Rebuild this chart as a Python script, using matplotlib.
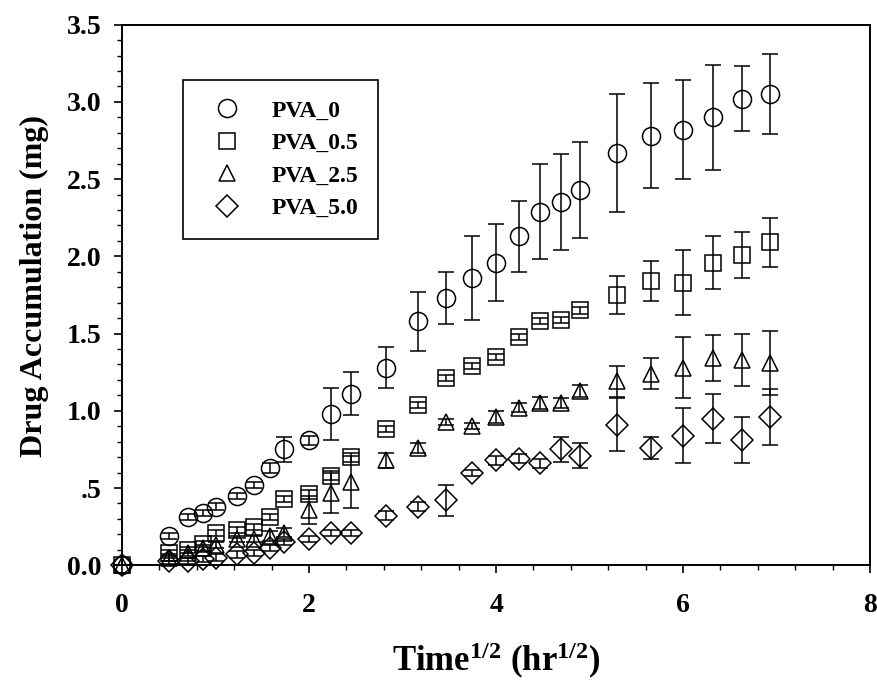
import matplotlib
matplotlib.use("Agg")
import matplotlib.pyplot as plt
from matplotlib.lines import Line2D
from matplotlib.ticker import MultipleLocator, FuncFormatter

plt.rcParams['font.family'] = 'Liberation Serif'
plt.rcParams['font.weight'] = 'bold'
plt.rcParams['mathtext.fontset'] = 'custom'
plt.rcParams['mathtext.rm'] = 'Liberation Serif:bold'
plt.rcParams['mathtext.bf'] = 'Liberation Serif:bold'
plt.rcParams['mathtext.default'] = 'bf'

# sqrt(time), hr^1/2
t = [0, 0.5, 0.707, 0.866, 1.0, 1.225, 1.414, 1.581, 1.732, 2.0, 2.236, 2.449,
     2.828, 3.162, 3.464, 3.742, 4.0, 4.243, 4.472, 4.690, 4.899,
     5.292, 5.657, 6.0, 6.325, 6.633, 6.928]

pva_0 = [0, 0.19, 0.31, 0.34, 0.38, 0.45, 0.52, 0.63, 0.75, 0.81, 0.98, 1.11,
         1.28, 1.58, 1.73, 1.86, 1.96, 2.13, 2.29, 2.35, 2.43,
         2.67, 2.78, 2.82, 2.90, 3.02, 3.05]
pva_0_err = [0, 0.02, 0.02, 0.02, 0.02, 0.02, 0.02, 0.03, 0.08, 0.03, 0.17, 0.14,
             0.13, 0.19, 0.17, 0.27, 0.25, 0.23, 0.31, 0.31, 0.31,
             0.38, 0.34, 0.32, 0.34, 0.21, 0.26]

pva_05 = [0, 0.08, 0.10, 0.14, 0.21, 0.23, 0.25, 0.31, 0.43, 0.46, 0.58, 0.70,
          0.88, 1.04, 1.21, 1.29, 1.35, 1.48, 1.58, 1.59, 1.65,
          1.75, 1.84, 1.83, 1.96, 2.01, 2.09]
pva_05_err = [0, 0.02, 0.02, 0.02, 0.02, 0.02, 0.02, 0.02, 0.02, 0.03, 0.03, 0.03,
              0.02, 0.02, 0.02, 0.02, 0.02, 0.02, 0.02, 0.02, 0.02,
              0.12, 0.13, 0.21, 0.17, 0.15, 0.16]

pva_25 = [0, 0.05, 0.08, 0.11, 0.13, 0.17, 0.17, 0.19, 0.21, 0.36, 0.47, 0.54,
          0.68, 0.76, 0.93, 0.90, 0.96, 1.02, 1.05, 1.05, 1.13,
          1.19, 1.24, 1.28, 1.34, 1.33, 1.31]
pva_25_err = [0, 0.02, 0.02, 0.02, 0.02, 0.02, 0.02, 0.03, 0.03, 0.09, 0.13, 0.17,
              0.05, 0.03, 0.02, 0.02, 0.04, 0.03, 0.04, 0.03, 0.04,
              0.10, 0.10, 0.20, 0.15, 0.17, 0.21]

pva_50 = [0, 0.03, 0.03, 0.04, 0.05, 0.07, 0.08, 0.11, 0.15, 0.17, 0.21, 0.21,
          0.32, 0.38, 0.42, 0.60, 0.68, 0.69, 0.66, 0.75, 0.71,
          0.91, 0.76, 0.84, 0.95, 0.81, 0.96]
pva_50_err = [0, 0.02, 0.02, 0.02, 0.02, 0.02, 0.02, 0.02, 0.02, 0.02, 0.02, 0.02,
              0.03, 0.03, 0.10, 0.02, 0.03, 0.03, 0.03, 0.08, 0.08,
              0.17, 0.07, 0.18, 0.16, 0.15, 0.18]

labels = ['PVA_0', 'PVA_0.5', 'PVA_2.5', 'PVA_5.0']
markers = ['o', 's', '^', 'D']
sizes = [13, 11, 12, 11]
series = [(pva_0, pva_0_err), (pva_05, pva_05_err), (pva_25, pva_25_err), (pva_50, pva_50_err)]

fig = plt.figure(figsize=(8.78, 6.86), dpi=100)
ax = fig.add_axes([0.139, 0.176, 0.852, 0.788])

for (y, e), m, s in zip(series, markers, sizes):
    ax.errorbar(t, y, yerr=e, fmt=m, ms=s, mfc='none', mec='black', mew=1.1,
                ecolor='black', elinewidth=1.1, capsize=6, capthick=1.1, clip_on=False)

ax.set_xlim(0, 8)
ax.set_ylim(0, 3.5)
ax.xaxis.set_major_locator(MultipleLocator(2))
ax.xaxis.set_minor_locator(MultipleLocator(0.4))
ax.yaxis.set_major_locator(MultipleLocator(0.5))
ax.yaxis.set_minor_locator(MultipleLocator(0.1))
ax.yaxis.set_major_formatter(FuncFormatter(lambda v, p: '.5' if abs(v - 0.5) < 1e-6 else f'{v:.1f}'))
ax.tick_params(which='major', direction='out', length=6, width=1.2, labelsize=20)
ax.tick_params(axis='x', which='major', pad=14)
ax.tick_params(axis='y', which='major', pad=9)
ax.tick_params(which='minor', direction='out', length=3.5, width=1.0)
ax.tick_params(top=False, right=False)
for sp in ax.spines.values():
    sp.set_linewidth(1.4)
for lab in ax.get_xticklabels() + ax.get_yticklabels():
    lab.set_fontweight('bold')

ax.set_ylabel('Drug Accumulation (mg)', fontsize=23, fontweight='bold')
ax.set_xlabel('Time$^{1/2}$ (hr$^{1/2}$)', fontsize=25, fontweight='bold')
ax.yaxis.set_label_coords(-0.098, 0.517)
ax.xaxis.set_label_coords(0.501, -0.14)

handles = [Line2D([], [], ls='none', marker=m, ms=s, mfc='none', mec='black', mew=1.1)
           for m, s in zip(markers, sizes)]
leg = ax.legend(handles, labels, loc='upper left', bbox_to_anchor=(0.0816, 0.898),
                fancybox=False, edgecolor='black', framealpha=1,
                prop={'family': 'Liberation Serif', 'weight': 'bold', 'size': 17},
                borderpad=0.85, labelspacing=0.47, handlelength=2.0,
                handletextpad=0.9, borderaxespad=0)
leg.get_frame().set_linewidth(1.2)

fig.savefig('out.png', dpi=100)
